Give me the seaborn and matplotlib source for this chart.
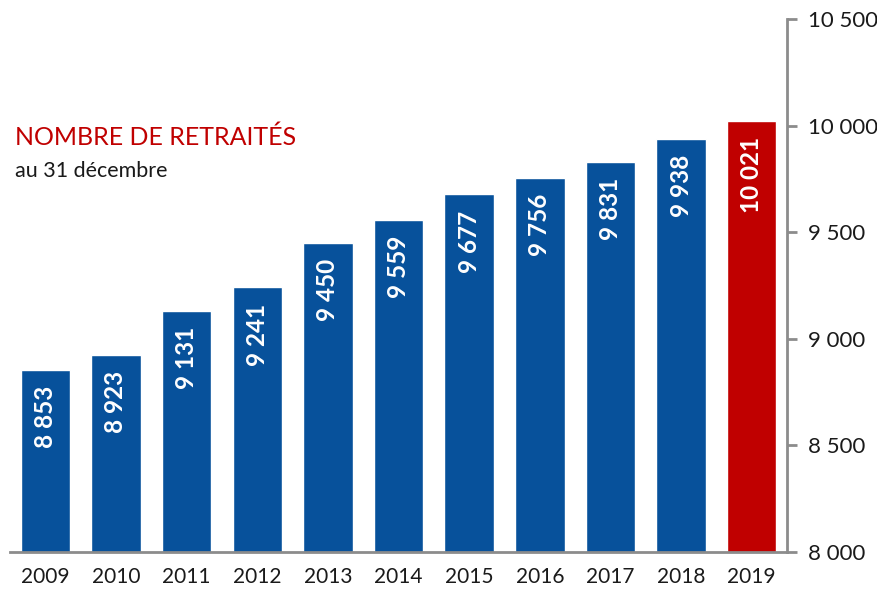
import numpy as np
import pandas as pd
import seaborn as sns
import matplotlib.pyplot as plt
from matplotlib.ticker import FuncFormatter, FixedLocator

# data
years = ["2009", "2010", "2011", "2012", "2013", "2014", "2015", "2016", "2017", "2018", "2019"]
retraites = [8853, 8923, 9131, 9241, 9450, 9559, 9677, 9756, 9831, 9938, 10021]
yticks = [8000, 8500, 9000, 9500, 10000, 10500]

blue = "#07519b"
red = "#c00000"
grey = "#8c8c8c"

sns.set_style("white")
plt.rcParams['font.family'] = ['Lato', 'DejaVu Sans']

df = pd.DataFrame({"annee": years, "n": retraites})
colors = {y: blue for y in years}
colors["2019"] = red

fig = plt.figure(figsize=(8.78, 5.93), dpi=100)
ax = fig.add_axes([0.0114, 0.069, 0.885, 0.899])

sns.barplot(data=df, x="annee", y="n", hue="annee", palette=colors,
            legend=False, width=0.7, saturation=1, ax=ax)

ax.set_ylim(8000, 10500)
ax.set_xlim(-0.5, len(years) - 0.5)

# value labels inside bars
for i, v in enumerate(retraites):
    ax.text(i, v - 75, f"{v:,}".replace(",", " "), rotation=90, ha="center", va="top",
            color="white", fontsize=17.5, fontweight="bold")

# right-hand y axis
ax.yaxis.tick_right()
ax.yaxis.set_major_locator(FixedLocator(yticks))
ax.yaxis.set_major_formatter(FuncFormatter(lambda v, p: f"{int(v):,}".replace(",", " ")))
ax.tick_params(axis="y", direction="out", length=7, width=2, color=grey,
               labelsize=16, pad=8, labelcolor="#1a1a1a")

# x ticks between categories
ax.set_xticks(range(len(years)))
ax.set_xticklabels(years)
ax.set_xticks(np.arange(-0.5, len(years)), minor=True)
ax.tick_params(axis="x", which="major", length=0, labelsize=15, pad=11, labelcolor="#1a1a1a")
ax.tick_params(axis="x", which="minor", length=8, width=2, color=grey)

for s in ["top", "left"]:
    ax.spines[s].set_visible(False)
for s in ["bottom", "right"]:
    ax.spines[s].set_color(grey)
    ax.spines[s].set_linewidth(2)

ax.set_xlabel("")
ax.set_ylabel("")

fig.text(0.017, 0.768, "NOMBRE DE RETRAITÉS", color=red, fontsize=18, va="center")
fig.text(0.017, 0.712, "au 31 décembre", color="#1a1a1a", fontsize=15.5, va="center")

fig.savefig("out.png", dpi=100)
